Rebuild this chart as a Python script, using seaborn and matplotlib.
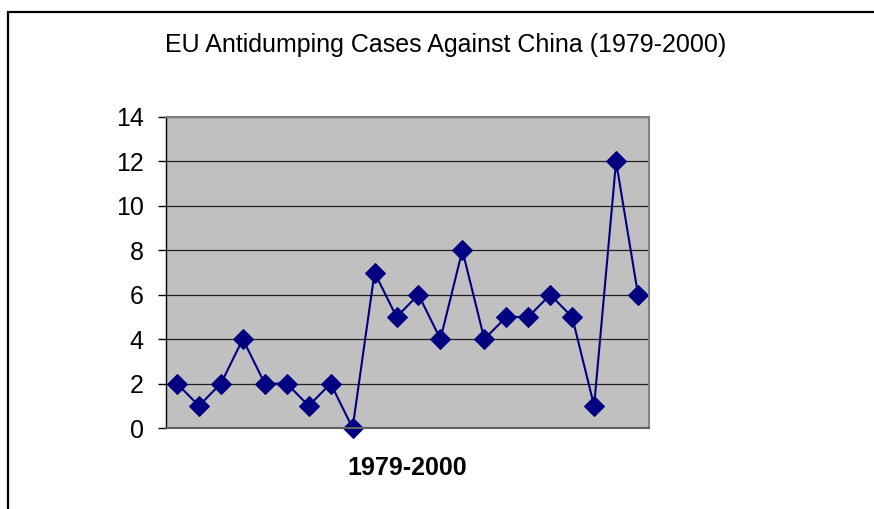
import matplotlib
matplotlib.use("Agg")
import matplotlib.pyplot as plt
import matplotlib.patches as patches
import pandas as pd
import seaborn as sns

# EU antidumping cases against China, one value per year
years = list(range(1979, 2001))
cases = [2, 1, 2, 4, 2, 2, 1, 2, 0, 7, 5, 6, 4, 8, 4, 5, 5, 6, 5, 1, 12, 6]
y_ticks = [0, 2, 4, 6, 8, 10, 12, 14]

df = pd.DataFrame({'Year': years, 'Cases': cases})
df['pos'] = range(len(df))

sns.set_style('white')
plt.rcParams['font.family'] = ['Liberation Sans', 'DejaVu Sans']
plt.rcParams['text.color'] = 'black'
plt.rcParams['ytick.color'] = 'black'
plt.rcParams['axes.labelcolor'] = 'black'

fig = plt.figure(figsize=(8.74, 5.09), dpi=100)
ax = fig.add_axes([166 / 874, 1 - 428 / 509, (649 - 166) / 874, (428 - 117) / 509])
ax.set_facecolor('#c0c0c0')

sns.lineplot(data=df, x='pos', y='Cases', ax=ax, color='#000080', linewidth=1.5,
             marker='D', markersize=10, markeredgecolor='#000080', clip_on=False)

ax.set_xlim(-0.5, len(df) - 0.5)
ax.set_ylim(0, 14)
ax.set_yticks(y_ticks)
ax.set_yticklabels([str(t) for t in y_ticks], fontsize=18)
ax.set_xticks([])
ax.yaxis.grid(True, color='#202020', linewidth=0.9)
ax.set_axisbelow(True)
ax.tick_params(axis='y', which='both', left=True, length=6, width=1, color='black', pad=10)

for side in ['top', 'right']:
    ax.spines[side].set_color('#808080')
    ax.spines[side].set_linewidth(1.5)
ax.spines['left'].set_color('black')
ax.spines['left'].set_linewidth(1)
ax.spines['bottom'].set_color('#606060')
ax.spines['bottom'].set_linewidth(1.5)

ax.set_ylabel('')
ax.set_xlabel('1979-2000', fontsize=18, fontweight='bold', labelpad=20)
fig.text(446 / 874, 1 - 45 / 509, 'EU Antidumping Cases Against China (1979-2000)',
         ha='center', va='center', fontsize=18)

# chart-area border (right and bottom run off the image)
fig.patches.append(patches.Rectangle((8 / 874, -0.1), 1.0, (509 - 12) / 509 + 0.1,
                                     transform=fig.transFigure, fill=False,
                                     edgecolor='black', linewidth=1.6))

fig.savefig('out.png', dpi=100)
